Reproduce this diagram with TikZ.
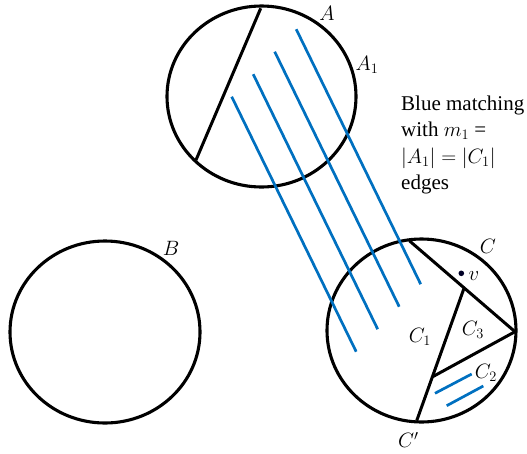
\documentclass[tikz,border=0pt]{standalone}
\usepackage{fontspec}
\setmainfont{Liberation Serif}
\usepackage{xcolor}
\usetikzlibrary{calc}
\definecolor{matchblue}{RGB}{0,112,192}

\begin{document}
\begin{tikzpicture}[
    x=1pt, y=-1pt,
    part/.style={draw=black, line width=3.1pt},
    cut/.style={draw=black, line width=3pt},
    match/.style={draw=matchblue, line width=2.7pt},
    lbl/.style={font=\fontsize{22}{25}\selectfont, inner sep=0pt},
    note/.style={font=\fontsize{21}{26}\selectfont, anchor=base west, inner sep=0pt}
]
\useasboundingbox (0,0) rectangle (527,453);

% === PARTES A, B, C ===
\coordinate (cA) at (261.5, 96.5);
\coordinate (cB) at (105, 332);
\coordinate (cC) at (421.5, 330.5);
\draw[part] (cA) ellipse [x radius=94.5, y radius=90.5];
\draw[part] (cB) ellipse [x radius=95, y radius=91];
\draw[part] (cC) ellipse [x radius=94.5, y radius=91.5];

\node[lbl] (labA) at (327, 13.5) {$A$};
\node[lbl] (labA1) at (367, 65) {$A_1$};
\node[lbl] (labB) at (171, 248.5) {$B$};
\node[lbl] (labC) at (488, 246.5) {$C$};

% === CORTE EN A ===
\coordinate (aTop) at (260.7, 8.3);
\coordinate (aBot) at (196, 160);
\draw[cut] (aTop) -- (aBot);

% === CORTES EN C ===
\coordinate (cTop) at (409.3, 240.7);
\coordinate (cRight) at (515, 331.7);
\coordinate (cMid) at (464, 288.3);
\coordinate (cLow) at (432.7, 376.7);
\coordinate (cBot) at (416.7, 420.7);
\draw[cut] (cTop) -- (cRight);
\draw[cut] (cMid) -- (cBot);
\draw[cut] (cLow) -- (cRight);

\fill[black!85!blue] (461.3, 273.3) circle (2.8pt) coordinate (vdot);
\node[lbl] (labv) at (474, 276) {$v$};
\node[lbl] (labC1) at (420, 336.5) {$C_1$};
\node[lbl] (labC3) at (473, 330) {$C_3$};
\node[lbl] (labC2) at (486, 372.5) {$C_2$};
\node[lbl] (labCp) at (408.3, 440) {$C'$};

% === EMPAREJAMIENTO AZUL ===
\foreach \i in {0,...,3} {
    \coordinate (m\i s) at ({231.7+21.5*\i}, {96.7-22.5*\i});
    \coordinate (m\i e) at ($(m\i s)+(124.5,255)$);
    \draw[match] (m\i s) -- (m\i e);
}
\coordinate (k1s) at (435, 393.3);
\coordinate (k1e) at (471.7, 374);
\coordinate (k2s) at (446.7, 405.7);
\coordinate (k2e) at (483.3, 386);
\draw[match] (k1s) -- (k1e);
\draw[match] (k2s) -- (k2e);

% === TEXTO ===
\node[note] (txt1) at (401, 110) {Blue matching};
\node[note] (txt2) at (401, 136.5) {with $m_1$ =};
\node[note] (txt3) at (401, 163) {$|A_1| = |C_1|$};
\node[note] (txt4) at (401, 189) {edges};

\end{tikzpicture}
\end{document}
